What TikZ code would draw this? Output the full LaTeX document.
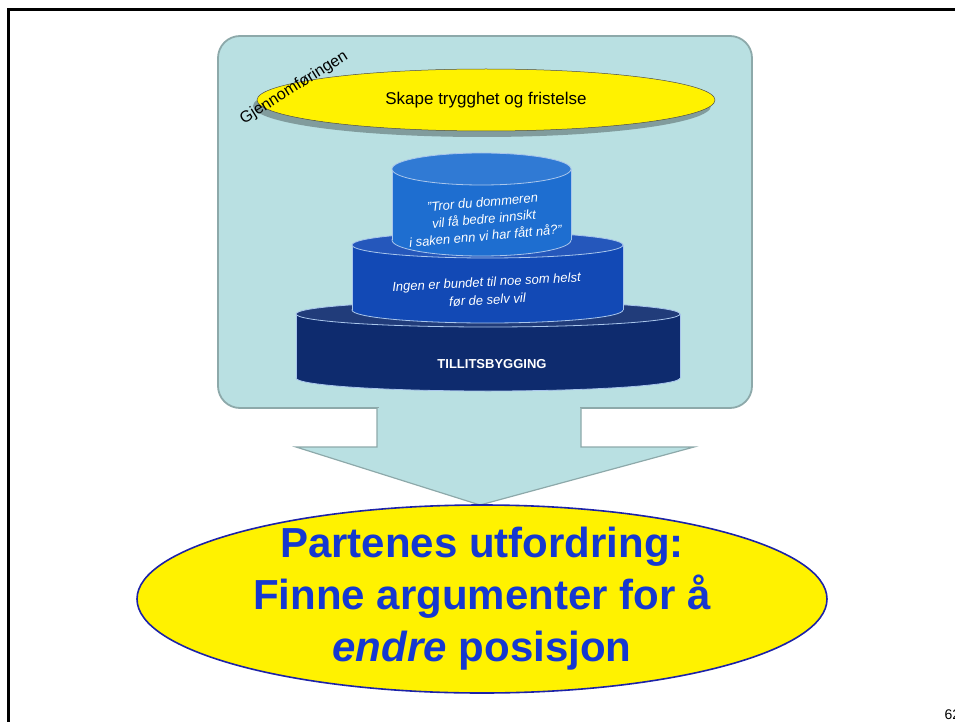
\documentclass[tikz,border=0pt]{standalone}
\usepackage{fontspec}
\setmainfont{Liberation Sans}
\usepackage{xcolor}
\usetikzlibrary{positioning,shapes.geometric}

\definecolor{boxfill}{HTML}{B9E0E2}
\definecolor{boxedge}{HTML}{8DA9AA}
\definecolor{cyltop}{HTML}{1E6ED0}
\definecolor{cylmid}{HTML}{1249B5}
\definecolor{cylbot}{HTML}{0E2B6E}
\definecolor{rim}{HTML}{A9C6EC}
\definecolor{textblue}{HTML}{1538D0}
\definecolor{ellipseedge}{HTML}{1C22A8}

\begin{document}
\begin{tikzpicture}[x=1pt,y=-1pt,
    cyltext/.style={text=white, align=center, font=\fontsize{13}{17}\selectfont\itshape},
    rimline/.style={draw=rim, line width=0.8pt}]
    \useasboundingbox (0,0) rectangle (955,722);
    \draw[line width=3pt] (8,722) -- (8,10) -- (955,10);

    % ramme og pil
    \node[draw=boxedge, line width=1.8pt, fill=boxfill, rounded corners=22pt,
          minimum width=534pt, minimum height=372pt] (ramme) at (485,222) {};
    \draw[draw=boxedge, line width=1.2pt, fill=boxfill]
        (377,408) -- (377,447) -- (296,447) -- (480,505) -- (694,447) -- (581,447) -- (581,408);
    \fill[boxfill] (378.5,405) rectangle (579.5,409);

    % ovalen oppe
    \fill[black, opacity=0.3] (482,106) ellipse [x radius=229, y radius=31];
    \node[ellipse, draw=black!70, line width=0.5pt, fill=yellow, minimum width=458pt,
          minimum height=62pt, font=\fontsize{17}{20}\selectfont] (trygghet) at (486,100)
          {Skape trygghet og fristelse};
    \node[rotate=32, font=\fontsize{16}{19}\selectfont] (gjennom) at (294,88) {Gjennomføringen};

    % trinnene
    \foreach \l/\r/\t/\b/\ry/\c in {296/680/314/378/13/cylbot, 352/623/245/310/13/cylmid, 392/571/169/240/16/cyltop}{
        \fill[\c, rimline] ({(\l+\r)/2},\b) ellipse [x radius={(\r-\l)/2}, y radius=\ry];
        \fill[\c] (\l,\t) rectangle (\r,\b);
        \draw[rimline] (\l,\t) -- (\l,\b) (\r,\t) -- (\r,\b);
        \fill[\c!92!white, rimline] ({(\l+\r)/2},\t) ellipse [x radius={(\r-\l)/2}, y radius=\ry];
    }
    \node[cyltext, rotate=5] (spm) at (484,219)
        {"Tror du dommeren\\ vil få bedre innsikt\\ i saken enn vi har fått nå?"};
    \node[cyltext, rotate=3, font=\fontsize{13}{18}\selectfont\itshape] (bundet) at (487,291)
        {Ingen er bundet til noe som helst\\ før de selv vil};
    \node[text=white, font=\fontsize{13}{15}\selectfont\bfseries] (tillit) at (492,364) {TILLITSBYGGING};

    % utfordringen
    \node[ellipse, draw=ellipseedge, line width=1.6pt, fill=yellow, minimum width=690pt,
          minimum height=188pt, inner sep=0pt] (utfordring) at (482,599) {};
    \node[text=textblue, align=center, font=\fontsize{42}{52}\selectfont\bfseries] at (utfordring.center)
        {Partenes utfordring:\\ Finne argumenter for å\\ \textit{endre} posisjon};

    \node[anchor=base west, font=\fontsize{14}{16}\selectfont] (side) at (941,719) {62};
\end{tikzpicture}
\end{document}
